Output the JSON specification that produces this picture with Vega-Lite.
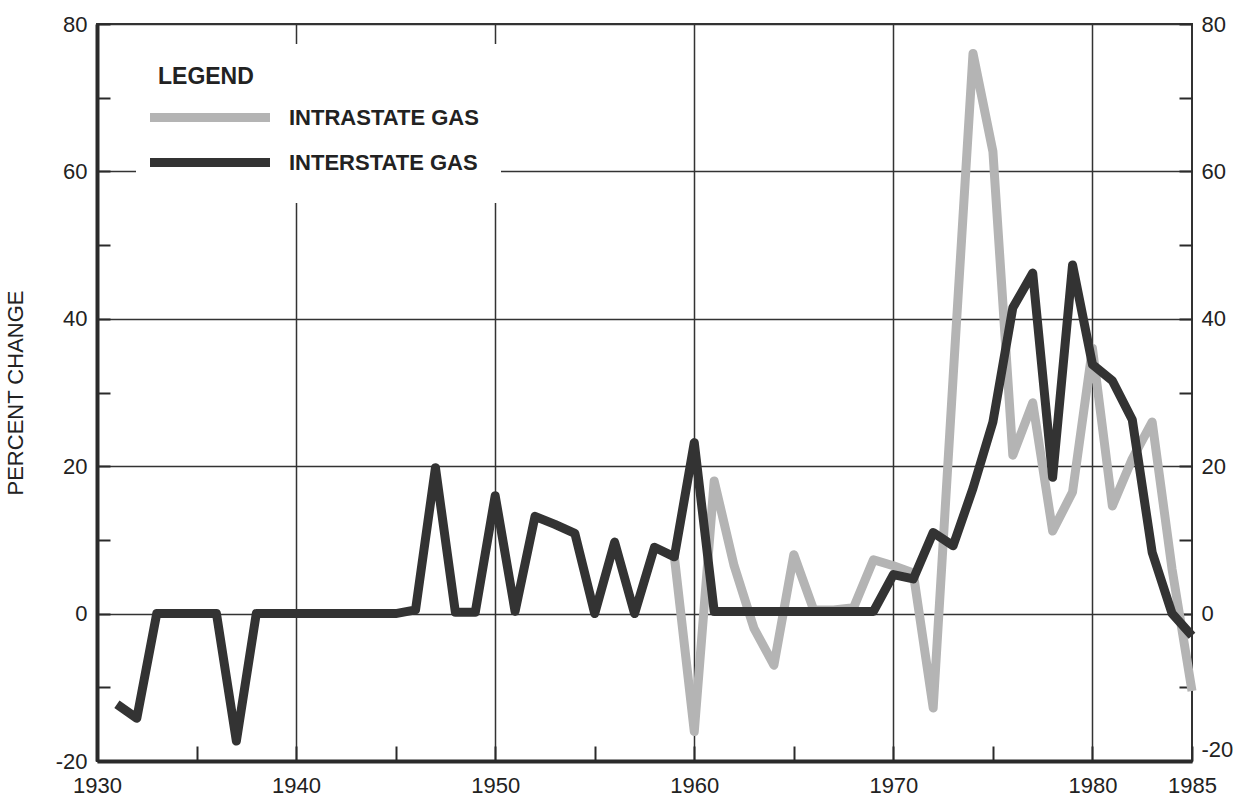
{
  "$schema": "https://vega.github.io/schema/vega-lite/v6.json",
  "width": 1095,
  "height": 737,
  "autosize": {"type": "none"},
  "padding": {"left": 97, "top": 24, "right": 59, "bottom": 39},
  "background": "white",
  "config": {
    "view": {"stroke": "#333333", "strokeWidth": 2},
    "font": "Liberation Sans",
    "axis": {
      "labelFont": "Liberation Sans",
      "labelFontSize": 22,
      "labelColor": "#222222",
      "labelFlush": false,
      "titleFont": "Liberation Sans",
      "titleFontSize": 22,
      "titleFontWeight": "normal",
      "titleColor": "#222222",
      "domainColor": "#2a2a2a",
      "tickColor": "#2a2a2a",
      "gridColor": "#333333",
      "gridWidth": 1.5,
      "tickWidth": 2
    }
  },
  "data": {
    "values": [
      {"year": 1931, "pct": -12.3, "series": "INTERSTATE GAS"},
      {"year": 1932, "pct": -14.2, "series": "INTERSTATE GAS"},
      {"year": 1933, "pct": 0, "series": "INTERSTATE GAS"},
      {"year": 1934, "pct": 0, "series": "INTERSTATE GAS"},
      {"year": 1935, "pct": 0, "series": "INTERSTATE GAS"},
      {"year": 1936, "pct": 0, "series": "INTERSTATE GAS"},
      {"year": 1937, "pct": -17.3, "series": "INTERSTATE GAS"},
      {"year": 1938, "pct": 0, "series": "INTERSTATE GAS"},
      {"year": 1939, "pct": 0, "series": "INTERSTATE GAS"},
      {"year": 1940, "pct": 0, "series": "INTERSTATE GAS"},
      {"year": 1941, "pct": 0, "series": "INTERSTATE GAS"},
      {"year": 1942, "pct": 0, "series": "INTERSTATE GAS"},
      {"year": 1943, "pct": 0, "series": "INTERSTATE GAS"},
      {"year": 1944, "pct": 0, "series": "INTERSTATE GAS"},
      {"year": 1945, "pct": 0, "series": "INTERSTATE GAS"},
      {"year": 1946, "pct": 0.5, "series": "INTERSTATE GAS"},
      {"year": 1947, "pct": 19.8, "series": "INTERSTATE GAS"},
      {"year": 1948, "pct": 0.2, "series": "INTERSTATE GAS"},
      {"year": 1949, "pct": 0.2, "series": "INTERSTATE GAS"},
      {"year": 1950, "pct": 16, "series": "INTERSTATE GAS"},
      {"year": 1951, "pct": 0.3, "series": "INTERSTATE GAS"},
      {"year": 1952, "pct": 13.2, "series": "INTERSTATE GAS"},
      {"year": 1953, "pct": 12.1, "series": "INTERSTATE GAS"},
      {"year": 1954, "pct": 10.9, "series": "INTERSTATE GAS"},
      {"year": 1955, "pct": 0, "series": "INTERSTATE GAS"},
      {"year": 1956, "pct": 9.7, "series": "INTERSTATE GAS"},
      {"year": 1957, "pct": 0, "series": "INTERSTATE GAS"},
      {"year": 1958, "pct": 9.0, "series": "INTERSTATE GAS"},
      {"year": 1959, "pct": 7.7, "series": "INTERSTATE GAS"},
      {"year": 1960, "pct": 23.2, "series": "INTERSTATE GAS"},
      {"year": 1961, "pct": 0.3, "series": "INTERSTATE GAS"},
      {"year": 1962, "pct": 0.3, "series": "INTERSTATE GAS"},
      {"year": 1963, "pct": 0.3, "series": "INTERSTATE GAS"},
      {"year": 1964, "pct": 0.3, "series": "INTERSTATE GAS"},
      {"year": 1965, "pct": 0.3, "series": "INTERSTATE GAS"},
      {"year": 1966, "pct": 0.3, "series": "INTERSTATE GAS"},
      {"year": 1967, "pct": 0.3, "series": "INTERSTATE GAS"},
      {"year": 1968, "pct": 0.3, "series": "INTERSTATE GAS"},
      {"year": 1969, "pct": 0.3, "series": "INTERSTATE GAS"},
      {"year": 1970, "pct": 5.3, "series": "INTERSTATE GAS"},
      {"year": 1971, "pct": 4.7, "series": "INTERSTATE GAS"},
      {"year": 1972, "pct": 11, "series": "INTERSTATE GAS"},
      {"year": 1973, "pct": 9.2, "series": "INTERSTATE GAS"},
      {"year": 1974, "pct": 17, "series": "INTERSTATE GAS"},
      {"year": 1975, "pct": 26, "series": "INTERSTATE GAS"},
      {"year": 1976, "pct": 41.5, "series": "INTERSTATE GAS"},
      {"year": 1977, "pct": 46.2, "series": "INTERSTATE GAS"},
      {"year": 1978, "pct": 18.5, "series": "INTERSTATE GAS"},
      {"year": 1979, "pct": 47.3, "series": "INTERSTATE GAS"},
      {"year": 1980, "pct": 33.8, "series": "INTERSTATE GAS"},
      {"year": 1981, "pct": 31.6, "series": "INTERSTATE GAS"},
      {"year": 1982, "pct": 26.3, "series": "INTERSTATE GAS"},
      {"year": 1983, "pct": 8.3, "series": "INTERSTATE GAS"},
      {"year": 1984, "pct": 0, "series": "INTERSTATE GAS"},
      {"year": 1985, "pct": -3, "series": "INTERSTATE GAS"},
      {"year": 1959, "pct": 7.7, "series": "INTRASTATE GAS"},
      {"year": 1960, "pct": -16, "series": "INTRASTATE GAS"},
      {"year": 1961, "pct": 18, "series": "INTRASTATE GAS"},
      {"year": 1962, "pct": 6.5, "series": "INTRASTATE GAS"},
      {"year": 1963, "pct": -2, "series": "INTRASTATE GAS"},
      {"year": 1964, "pct": -7, "series": "INTRASTATE GAS"},
      {"year": 1965, "pct": 8, "series": "INTRASTATE GAS"},
      {"year": 1966, "pct": 0.5, "series": "INTRASTATE GAS"},
      {"year": 1967, "pct": 0.5, "series": "INTRASTATE GAS"},
      {"year": 1968, "pct": 0.8, "series": "INTRASTATE GAS"},
      {"year": 1969, "pct": 7.3, "series": "INTRASTATE GAS"},
      {"year": 1970, "pct": 6.5, "series": "INTRASTATE GAS"},
      {"year": 1971, "pct": 5.5, "series": "INTRASTATE GAS"},
      {"year": 1972, "pct": -12.8, "series": "INTRASTATE GAS"},
      {"year": 1973, "pct": 32, "series": "INTRASTATE GAS"},
      {"year": 1974, "pct": 76, "series": "INTRASTATE GAS"},
      {"year": 1975, "pct": 62.7, "series": "INTRASTATE GAS"},
      {"year": 1976, "pct": 21.5, "series": "INTRASTATE GAS"},
      {"year": 1977, "pct": 28.6, "series": "INTRASTATE GAS"},
      {"year": 1978, "pct": 11.2, "series": "INTRASTATE GAS"},
      {"year": 1979, "pct": 16.5, "series": "INTRASTATE GAS"},
      {"year": 1980, "pct": 36, "series": "INTRASTATE GAS"},
      {"year": 1981, "pct": 14.6, "series": "INTRASTATE GAS"},
      {"year": 1982, "pct": 21, "series": "INTRASTATE GAS"},
      {"year": 1983, "pct": 26, "series": "INTRASTATE GAS"},
      {"year": 1984, "pct": 6, "series": "INTRASTATE GAS"},
      {"year": 1985, "pct": -10.5, "series": "INTRASTATE GAS"}
    ]
  },
  "encoding": {
    "x": {
      "field": "year",
      "type": "quantitative",
      "scale": {"domain": [1930, 1985], "nice": false, "zero": false},
      "axis": {
        "orient": "bottom",
        "title": null,
        "values": [1930, 1935, 1940, 1945, 1950, 1955, 1960, 1965, 1970, 1975, 1980, 1985],
        "labelExpr": "(datum.value % 10 == 0 || datum.value == 1985) ? '' + datum.value : ''",
        "labelFlush": false,
        "labelOverlap": false,
        "tickSize": -15,
        "labelPadding": 29,
        "domainWidth": 4,
        "grid": true,
        "gridOpacity": {"condition": {"test": "datum.value % 10 == 0", "value": 1}, "value": 0}
      }
    },
    "color": {
      "field": "series",
      "type": "nominal",
      "scale": {"domain": ["INTRASTATE GAS", "INTERSTATE GAS"], "range": ["#b4b4b4", "#333333"]},
      "legend": {
        "title": "LEGEND",
        "orient": "none",
        "legendX": 39,
        "legendY": 20,
        "direction": "vertical",
        "fillColor": "white",
        "padding": 22,
        "titleFont": "Liberation Sans",
        "titleFontSize": 23,
        "titleFontWeight": "bold",
        "titleColor": "#222222",
        "titlePadding": 14,
        "labelFont": "Liberation Sans",
        "labelFontSize": 22,
        "labelFontWeight": "bold",
        "labelColor": "#222222",
        "labelOffset": 102,
        "labelLimit": 400,
        "symbolType": "M-2.25,0H9.75",
        "symbolSize": 400,
        "symbolStrokeWidth": 9,
        "rowPadding": 8
      }
    }
  },
  "layer": [
    {
      "transform": [{"filter": "datum.series == 'INTRASTATE GAS'"}],
      "mark": {"type": "line", "strokeWidth": 9, "strokeJoin": "round", "strokeCap": "butt"},
      "encoding": {
        "y": {
          "field": "pct",
          "type": "quantitative",
          "scale": {"domain": [-20, 80], "nice": false, "zero": false},
          "axis": {
            "orient": "left",
            "title": "PERCENT CHANGE",
            "titlePadding": 28,
            "values": [-20, -10, 0, 10, 20, 30, 40, 50, 60, 70, 80],
            "labelExpr": "datum.value % 20 == 0 ? '' + datum.value : ''",
            "labelFlush": false,
            "labelOverlap": false,
            "tickSize": -13,
            "labelPadding": 23,
            "domainWidth": 4,
            "grid": true,
            "gridOpacity": {"condition": {"test": "datum.value % 20 == 0", "value": 1}, "value": 0}
          }
        }
      }
    },
    {
      "transform": [{"filter": "datum.series == 'INTERSTATE GAS'"}],
      "mark": {"type": "line", "strokeWidth": 9, "strokeJoin": "round", "strokeCap": "butt"},
      "encoding": {
        "y": {
          "field": "pct",
          "type": "quantitative",
          "scale": {"domain": [-20, 80], "nice": false, "zero": false},
          "axis": {
            "orient": "right",
            "title": null,
            "values": [-20, -10, 0, 10, 20, 30, 40, 50, 60, 70, 80],
            "labelExpr": "datum.value % 20 == 0 ? '' + datum.value : ''",
            "labelFlush": false,
            "labelOverlap": false,
            "labelBaseline": {"condition": {"test": "datum.value == -20", "value": "bottom"}, "value": "middle"},
            "tickSize": -13,
            "labelPadding": 22,
            "domain": false,
            "grid": false
          }
        }
      }
    }
  ],
  "resolve": {"axis": {"y": "independent"}}
}
